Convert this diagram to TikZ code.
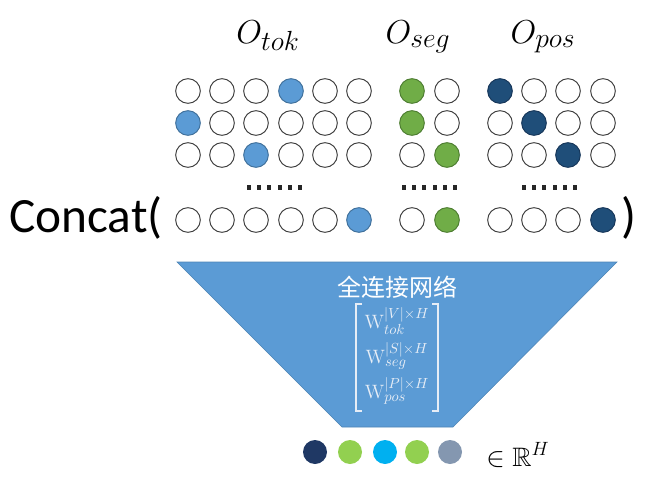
\documentclass[tikz,border=0pt]{standalone}
\usepackage{amsmath,amssymb}
\usepackage{fontspec}
\newfontfamily\cjk{Noto Sans CJK SC}
\newfontfamily\calib{Carlito}
\DeclareMathSizes{14.5}{14.5}{11}{8.5}
\DeclareMathSizes{24}{24}{21}{15}
\definecolor{tokfill}{HTML}{5B9BD5}
\definecolor{tokline}{HTML}{41719C}
\definecolor{segfill}{HTML}{70AD47}
\definecolor{segline}{HTML}{4E7E32}
\definecolor{posfill}{HTML}{1F4E79}
\definecolor{posline}{HTML}{17375A}
\definecolor{trap}{HTML}{5B9BD5}
\definecolor{matcol}{HTML}{E6EDF6}
\definecolor{bnavy}{HTML}{1F3864}
\definecolor{bgreen}{HTML}{92D050}
\definecolor{bcyan}{HTML}{00B0F0}
\definecolor{bgray}{HTML}{8497B0}
\begin{document}
\begin{tikzpicture}[x=0.75pt,y=-0.75pt,
  cell/.style={circle,draw=black!75,line width=0.75pt,minimum size=18.5pt,inner sep=0pt,outer sep=0pt,fill=white},
  tokc/.style={cell,fill=tokfill,draw=tokline},
  segc/.style={cell,fill=segfill,draw=segline},
  posc/.style={cell,fill=posfill,draw=posline},
  outc/.style={circle,minimum size=18pt,inner sep=0pt,draw=none},
  dotsq/.style={fill=black!85,draw=none},
  title/.style={anchor=base,inner sep=0pt,font=\fontsize{24}{26}\selectfont},
  bigtxt/.style={anchor=base west,inner sep=0pt,font=\calib\fontsize{37}{40}\selectfont},
  matrow/.style={text=matcol,inner sep=0pt,font=\fontsize{14.5}{17}\selectfont},
  bracket/.style={draw=matcol,line width=0.9pt}]
\useasboundingbox (0,0) rectangle (654,493);

% titles
\node[title] (ttok) at (268,43) {$O_{tok}$};
\node[title] (tseg) at (418,43) {$O_{seg}$};
\node[title] (tpos) at (543,43) {$O_{pos}$};

% circle grid
\foreach \r/\y/\ft/\fs/\fp in {1/91/4/1/1, 2/123/1/1/2, 3/155/3/2/3, 4/220/6/2/4}{
  \foreach \x [count=\c] in {188,222,256,291,325,359}{
    \ifnum\c=\ft
      \node[tokc] (tok-\r-\c) at (\x,\y) {};
    \else
      \node[cell] (tok-\r-\c) at (\x,\y) {};
    \fi
  }
  \foreach \x [count=\c] in {412,447}{
    \ifnum\c=\fs
      \node[segc] (seg-\r-\c) at (\x,\y) {};
    \else
      \node[cell] (seg-\r-\c) at (\x,\y) {};
    \fi
  }
  \foreach \x [count=\c] in {500,534,568,603}{
    \ifnum\c=\fp
      \node[posc] (pos-\r-\c) at (\x,\y) {};
    \else
      \node[cell] (pos-\r-\c) at (\x,\y) {};
    \fi
  }
}

% dotted separators
\foreach \s in {249,404,524}{
  \foreach \k in {0,...,5}{
    \fill[dotsq] ({\s+\k*10.2-2},185) rectangle ({\s+\k*10.2+2},189.5);
  }
}

% Concat( ... )
\node[bigtxt] (concat) at (9,232) {Concat(};
\node[bigtxt] (close) at (621,232) {)};

% trapezoid
\path[fill=trap,draw=trap!85!black,line width=0.4pt]
  (177,262) -- (617,262) -- (453,427) -- (342,427) -- cycle;
\node[text=white,inner sep=0pt,font=\cjk\fontsize{18}{20}\selectfont] (fc) at (397,287) {全连接网络};

% weight matrix
\node[matrow] (w1) at (397,321) {$\mathrm{W}_{tok}^{|V|\times H}$};
\node[matrow] (w2) at (397,356) {$\mathrm{W}_{seg}^{|S|\times H}$};
\node[matrow] (w3) at (397,391) {$\mathrm{W}_{pos}^{|P|\times H}$};
\coordinate (bl1) at (362,304); \coordinate (bl2) at (356,304);
\coordinate (bl3) at (356,411); \coordinate (bl4) at (362,411);
\coordinate (br1) at (432,304); \coordinate (br2) at (438,304);
\coordinate (br3) at (438,411); \coordinate (br4) at (432,411);
\draw[bracket] (bl1) -- (bl2) -- (bl3) -- (bl4);
\draw[bracket] (br1) -- (br2) -- (br3) -- (br4);

% output vector
\node[outc,fill=bnavy] (o1) at (315,452) {};
\node[outc,fill=bgreen] (o2) at (350,452) {};
\node[outc,fill=bcyan] (o3) at (385,452) {};
\node[outc,fill=bgreen] (o4) at (417,452) {};
\node[outc,fill=bgray] (o5) at (450,452) {};
\node[anchor=base west,inner sep=0pt,font=\fontsize{20}{22}\selectfont] (rh) at (486,466) {$\in\mathbb{R}^{H}$};
\end{tikzpicture}
\end{document}
